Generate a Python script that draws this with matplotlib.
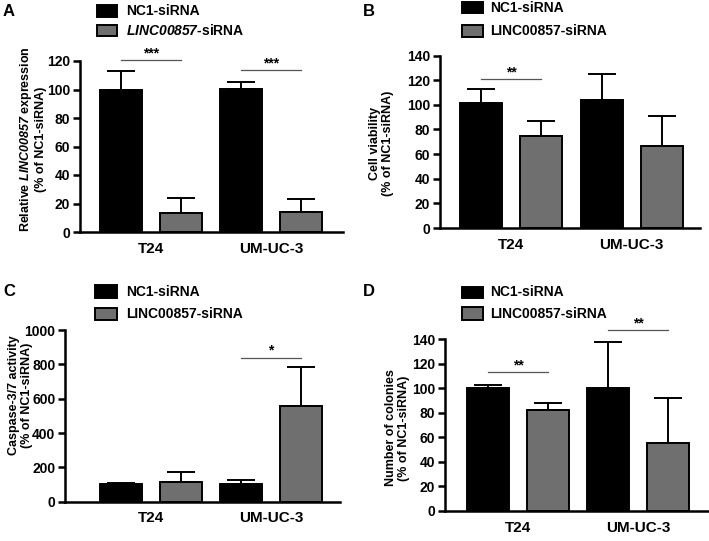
import numpy as np
import matplotlib
matplotlib.use("Agg")
import matplotlib.pyplot as plt
from matplotlib.patches import Rectangle

plt.rcParams['font.family'] = ['Liberation Sans', 'DejaVu Sans']
plt.rcParams['font.weight'] = 'bold'
# math text is only used for the italic gene name, so digits go italic too
plt.rcParams['mathtext.fontset'] = 'custom'
plt.rcParams['mathtext.it'] = 'Liberation Sans:italic:bold'
plt.rcParams['mathtext.rm'] = 'Liberation Sans:italic:bold'
plt.rcParams['mathtext.bf'] = 'Liberation Sans:italic:bold'

# ── Data ──────────────────────────────────────────────────────────────────────
cell_lines = ["T24", "UM-UC-3"]
groups = ["NC1-siRNA", "LINC00857-siRNA"]

# panel A: relative LINC00857 expression
a_nc1 = [100, 100.5]
a_nc1_err = [13, 5]
a_linc = [13.5, 14]
a_linc_err = [10.5, 9.5]
a_sig = [(0, 1, 120.7, "***"), (2, 3, 113.6, "***")]

# panel B: cell viability
b_nc1 = [101.5, 103.5]
b_nc1_err = [11, 21.5]
b_linc = [75, 66.5]
b_linc_err = [12, 24.5]
b_sig = [(0, 1, 120.8, "**")]

# panel C: caspase-3/7 activity
c_nc1 = [103, 103]
c_nc1_err = [5, 22]
c_linc = [116, 557]
c_linc_err = [59, 230]
c_sig = [(2, 3, 839, "*")]

# panel D: number of colonies
d_nc1 = [100.5, 100.5]
d_nc1_err = [2.5, 37.5]
d_linc = [82.5, 55.5]
d_linc_err = [5.5, 37]
d_sig = [(0, 1, 113, "**"), (2, 3, 147.5, "**")]

ylabels = [
    "Relative $\\mathit{LINC00857}$ expression\n(% of NC1-siRNA)",
    "Cell viability\n(% of NC1-siRNA)",
    "Caspase-3/7 activity\n(% of NC1-siRNA)",
    "Number of colonies\n(% of NC1-siRNA)",
]

DARK = "black"
GRAY = "#6f6f6f"
W, H = 709, 541

fig = plt.figure(figsize=(7.09, 5.41), dpi=100)


def px(x0, y0, x1, y1):
    return [x0 / W, 1 - y1 / H, (x1 - x0) / W, (y1 - y0) / H]


def fx(x):
    return x / W


def fy(y):
    return 1 - y / H


panels = [
    dict(rect=px(80, 61, 343, 232), xlim=(-0.683, 3.7), ylim=(0, 120), step=20,
         nc1=a_nc1, nc1e=a_nc1_err, linc=a_linc, lince=a_linc_err, sig=a_sig,
         letter="A", lp=(3, 4), lab=(47, 139),
         leg=((97, 117), (5, 17), (25, 36), 126), italic=True),
    dict(rect=px(440, 55.5, 700, 228), xlim=(-0.69, 3.64), ylim=(0, 140), step=20,
         nc1=b_nc1, nc1e=b_nc1_err, linc=b_linc, lince=b_linc_err, sig=b_sig,
         letter="B", lp=(363, 4), lab=(394, 143),
         leg=((462, 483), (2, 13), (25, 37), 490), italic=False),
    dict(rect=px(65, 330, 340, 501.7), xlim=(-0.93, 3.65), ylim=(0, 1000), step=200,
         nc1=c_nc1, nc1e=c_nc1_err, linc=c_linc, lince=c_linc_err, sig=c_sig,
         letter="C", lp=(3, 284), lab=(33, 395),
         leg=((95, 117), (285, 298), (308, 320), 126), italic=False),
    dict(rect=px(445, 339.3, 708, 511), xlim=(-0.725, 3.66), ylim=(0, 140), step=20,
         nc1=d_nc1, nc1e=d_nc1_err, linc=d_linc, lince=d_linc_err, sig=d_sig,
         letter="D", lp=(363, 284), lab=(410, 428),
         leg=((462, 483), (287, 298), (307, 320), 490), italic=False),
]

for p, ylab in zip(panels, ylabels):
    ax = fig.add_axes(p["rect"])
    x = np.arange(4)
    vals = [p["nc1"][0], p["linc"][0], p["nc1"][1], p["linc"][1]]
    errs = [p["nc1e"][0], p["lince"][0], p["nc1e"][1], p["lince"][1]]
    cols = [DARK, GRAY, DARK, GRAY]
    ax.bar(x, vals, width=0.7, color=cols, edgecolor="black", linewidth=1.4, zorder=2)
    ax.errorbar(x, vals, yerr=[np.zeros(4), errs], fmt="none", ecolor="black",
                elinewidth=1.4, capsize=10, capthick=1.4, zorder=1)

    for i, j, yv, txt in p["sig"]:
        ax.plot([i, j], [yv, yv], color="#555555", lw=0.9, clip_on=False)
        ax.annotate(txt, xy=((i + j) / 2, yv), xytext=(0, 0), textcoords="offset points",
                    ha="center", va="bottom", fontsize=10, fontweight="bold",
                    annotation_clip=False)

    ax.set_xlim(p["xlim"])
    ax.set_ylim(p["ylim"])
    ax.set_yticks(np.arange(0, p["ylim"][1] + 1, p["step"]))
    ax.set_xticks([0.5, 2.5])
    ax.set_xticklabels(cell_lines, fontsize=11, fontweight="bold")
    ax.tick_params(axis="x", length=0, pad=7)
    ax.tick_params(axis="y", length=5, width=1.8, labelsize=10, pad=2)
    for lab in ax.get_yticklabels():
        lab.set_fontweight("bold")
    for s in ["top", "right"]:
        ax.spines[s].set_visible(False)
    for s in ["left", "bottom"]:
        ax.spines[s].set_linewidth(1.8)
    ax.set_ylabel(ylab, fontsize=9, fontweight="bold", linespacing=1.15)
    ax.yaxis.set_label_coords(fx(p["lab"][0]), fy(p["lab"][1]), transform=fig.transFigure)

    # panel letter
    fig.text(fx(p["lp"][0]), fy(p["lp"][1]), p["letter"], fontsize=12,
             fontweight="bold", ha="left", va="top")

    # legend drawn as patches + labels
    (x0, x1), r1, r2, tx = p["leg"]
    names = list(groups)
    if p["italic"]:
        names[1] = "$\\mathit{LINC00857}$-siRNA"
    for (y0, y1), col, name in zip([r1, r2], [DARK, GRAY], names):
        fig.patches.append(Rectangle((fx(x0), fy(y1)), (x1 - x0) / W, (y1 - y0) / H,
                                     transform=fig.transFigure, facecolor=col,
                                     edgecolor="black", lw=1.4))
        fig.text(fx(tx), fy((y0 + y1) / 2), name, fontsize=10, fontweight="bold",
                 ha="left", va="center")

fig.savefig("out.png", dpi=100)
